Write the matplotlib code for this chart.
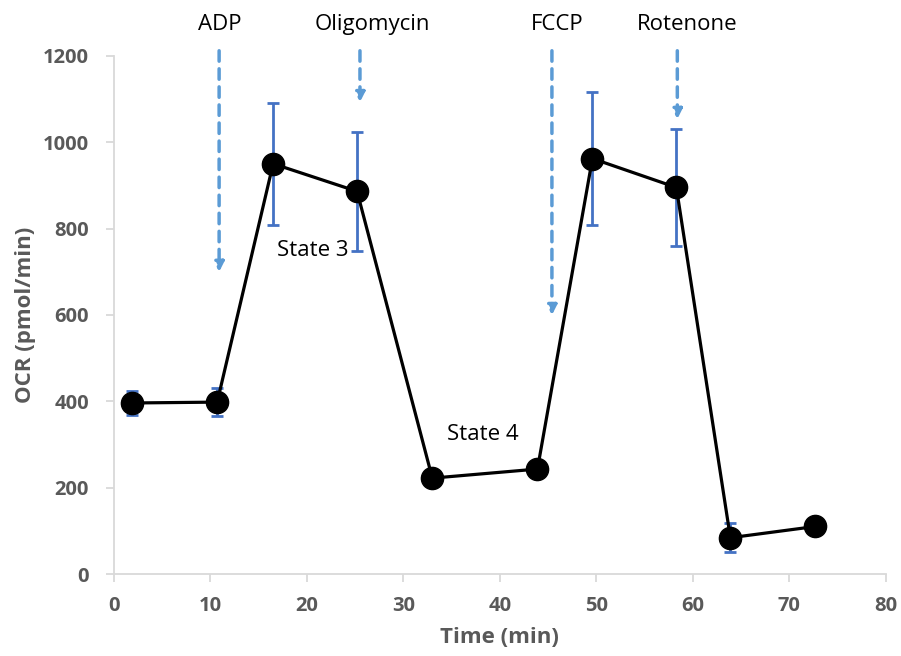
import matplotlib.pyplot as plt
import numpy as np

plt.rcParams['font.family'] = ['Open Sans', 'DejaVu Sans']

# 数据
time = [1.9, 10.7, 16.5, 25.2, 33.0, 43.9, 49.6, 58.3, 63.9, 72.7]
ocr = [396, 398, 950, 886, 222, 243, 962, 895, 84, 110]
err = [27, 33, 141, 138, 8, 8, 153, 135, 33, 5]

# 加药时间点 (x, 箭头底端 y)
inj_names = ['ADP', 'Oligomycin', 'FCCP', 'Rotenone']
inj_x = [10.9, 25.5, 45.4, 58.4]
inj_end = [693, 1086, 593, 1047]
label_x = [11.0, 26.8, 45.9, 59.4]

states = ['State 3', 'State 4']
state_x = [20.6, 38.2]
state_y = [750, 324]

fig = plt.figure(figsize=(9.01, 6.56), dpi=100)
ax = fig.add_axes([0.1265, 0.125, 0.8565, 0.79])

ax.errorbar(time, ocr, yerr=err, fmt='none', ecolor='#4472C4', elinewidth=2,
            capsize=4, capthick=2, zorder=2)
ax.plot(time, ocr, color='black', lw=2.3, marker='o', markersize=16, zorder=3)

# 虚线箭头
for x, yend in zip(inj_x, inj_end):
    ax.annotate('', xy=(x, yend), xytext=(x, 1218),
                arrowprops=dict(arrowstyle='-|>', color='#5B9BD5', lw=2.5,
                                linestyle=(0, (3, 2.2)), mutation_scale=14),
                annotation_clip=False)
for name, x in zip(inj_names, label_x):
    ax.text(x, 1273, name, ha='center', va='center', fontsize=16, clip_on=False)

for s, x, y in zip(states, state_x, state_y):
    ax.text(x, y, s, ha='center', va='center', fontsize=16)

ax.set_xlim(0, 80)
ax.set_ylim(0, 1200)
ax.set_xticks(np.arange(0, 81, 10))
ax.set_yticks(np.arange(0, 1201, 200))
for sp in ['top', 'right']:
    ax.spines[sp].set_visible(False)
for sp in ['left', 'bottom']:
    ax.spines[sp].set_color('#D9D9D9')
    ax.spines[sp].set_linewidth(1.3)
ax.tick_params(colors='#D9D9D9', labelcolor='#595959', labelsize=14.5, length=6, width=1.3)
ax.tick_params(axis='x', pad=10)
ax.tick_params(axis='y', pad=12)
for lab in ax.get_xticklabels() + ax.get_yticklabels():
    lab.set_fontweight('bold')

ax.set_xlabel('Time (min)', fontsize=16, fontweight='bold', color='#595959', labelpad=8)
ax.set_ylabel('OCR (pmol/min)', fontsize=16, fontweight='bold', color='#595959', labelpad=5)

plt.savefig('out.png', dpi=100)
